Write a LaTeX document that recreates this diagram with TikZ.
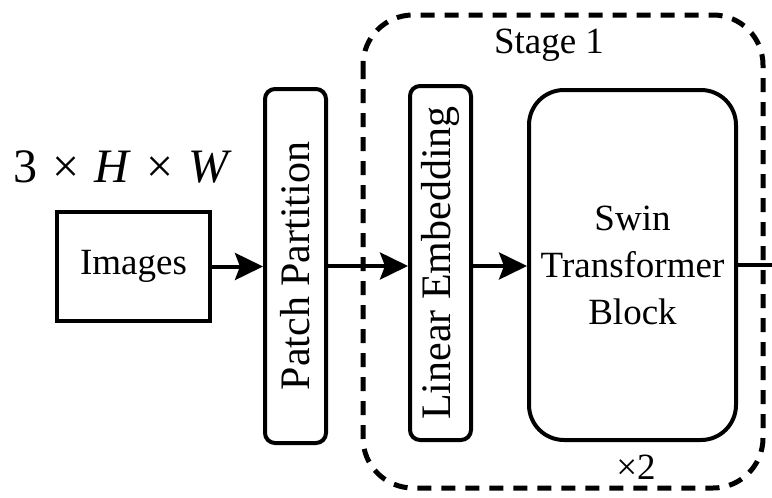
\documentclass[tikz,border=0pt]{standalone}
\usepackage{fontspec}
\setmainfont{Liberation Serif}
\usetikzlibrary{arrows.meta}
\begin{document}
\begin{tikzpicture}[x=1pt,y=-1pt,
  lbl/.style={font=\fontsize{37}{47}\selectfont, inner sep=0pt, align=center},
  rotlbl/.style={font=\fontsize{42}{47}\selectfont},
  boxsq/.style={draw, line width=4pt, inner sep=0pt, lbl},
  boxrnd/.style={draw, line width=4pt, rounded corners=10pt, inner sep=0pt, lbl},
  conn/.style={line width=4pt, -{Stealth[length=28pt,width=27pt,inset=5pt]}},
  stagebox/.style={draw, line width=5pt, dash pattern=on 14pt off 10pt, rounded corners=50pt}]
\useasboundingbox (0,0) rectangle (772,498);
% stage frame
\draw[stagebox] (363,15) rectangle (763,488);
\node[lbl, anchor=base] (stage) at (549,53) {Stage 1};
% input dims
\node[anchor=base west, inner sep=0pt, font=\fontsize{48}{50}\selectfont] (dims) at (13,182) {3\hspace{15pt}×\hspace{15pt}\textit{H}\hspace{15pt}×\hspace{15pt}\textit{W}};
% nodes
\node[boxsq, minimum width=153pt, minimum height=109pt] (img) at (133.5,266.5) {Images};
\node[boxrnd, rotlbl, rotate=90, minimum width=354pt, minimum height=61pt] (pp) at (295.5,266) {Patch Partition};
\node[boxrnd, rotlbl, rotate=90, minimum width=354pt, minimum height=61pt] (le) at (440.5,263) {Linear Embedding};
\node[boxrnd, rounded corners=35pt, minimum width=207pt, minimum height=350pt] (swin) at (632.5,265) {Swin\\Transformer\\Block};
\node[lbl, anchor=base] (rep) at (636,479) {×2};
\coordinate (out) at (772,265);
% connectors
\draw[conn] (img.east) -- (img.east -| pp.north);
\draw[conn] (pp.south |- 0,266) -- (le.north |- 0,266);
\draw[conn] (le.south |- 0,266) -- (swin.west |- 0,266);
\draw[line width=4pt] (swin.east) -- (out);
\end{tikzpicture}
\end{document}
